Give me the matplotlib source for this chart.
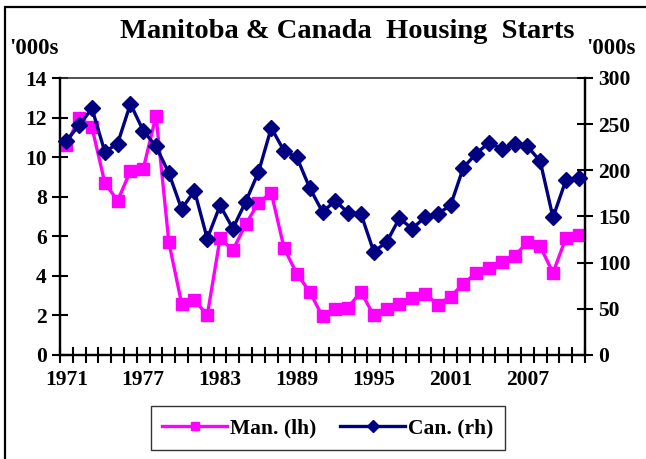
import matplotlib
matplotlib.use("Agg")
import matplotlib.pyplot as plt
import numpy as np
from matplotlib.patches import Rectangle

years = list(range(1971, 2012))
manitoba = [10.6, 12.0, 11.5, 8.7, 7.8, 9.3, 9.4, 12.1, 5.7, 2.6,
            2.8, 2.0, 5.9, 5.3, 6.6, 7.7, 8.2, 5.4, 4.1, 3.2,
            1.95, 2.3, 2.4, 3.2, 2.0, 2.3, 2.6, 2.9, 3.1, 2.55,
            2.95, 3.6, 4.15, 4.4, 4.7, 5.0, 5.7, 5.5, 4.15, 5.9, 6.05]
canada = [232, 249, 267, 220, 229, 272, 243, 226, 197, 158,
          178, 126, 162, 137, 166, 198, 246, 221, 214, 181,
          155, 167, 154, 153, 112, 122, 148, 137, 149, 153,
          162, 203, 218, 230, 223, 228, 226, 210, 149, 189, 192]
label_years = [1971, 1977, 1983, 1989, 1995, 2001, 2007]

serif = ["Liberation Serif", "DejaVu Serif"]
plt.rcParams['font.family'] = serif
plt.rcParams['font.weight'] = 'bold'

W, H = 646, 459
fig = plt.figure(figsize=(W/100, H/100), dpi=100)
ax = fig.add_axes([60/W, 1-355/H, (585-60)/W, (355-78)/H])
ax2 = ax.twinx()

x = np.arange(len(years))
pink = "#FF00FF"
navy = "#000080"
l1, = ax.plot(x, manitoba, color=pink, lw=2.4, marker='s', ms=8.5,
              mec=pink, mfc=pink, clip_on=False, zorder=3, label="Man. (lh)")
l2, = ax2.plot(x, canada, color=navy, lw=2.4, marker='D', ms=8,
               mec=navy, mfc=navy, clip_on=False, zorder=3, label="Can. (rh)")

ax.set_xlim(-0.5, len(years)-0.5)
ax.set_ylim(0, 14)
ax2.set_ylim(0, 300)
ax.set_yticks(np.arange(0, 15, 2))
ax2.set_yticks(np.arange(0, 301, 50))

fs = 15.5
ax.set_xticks([years.index(y) for y in label_years])
ax.set_xticklabels([str(y) for y in label_years])
ax.set_xticks(np.arange(-0.5, len(years), 1.0), minor=True)
ax.tick_params(axis='x', which='major', length=0, pad=11, labelsize=fs)
ax.tick_params(axis='x', which='minor', direction='inout', length=11, width=1.5)
ax.tick_params(axis='y', direction='inout', length=11, width=1.5, labelsize=fs, pad=4)
ax2.tick_params(axis='y', direction='inout', length=11, width=1.5, labelsize=fs, pad=4)

for a in (ax, ax2):
    for s in a.spines.values():
        s.set_linewidth(1.6)
        s.set_color('black')
ax.spines['top'].set_linewidth(1.2)
ax.spines['top'].set_color('#333333')
ax2.spines['top'].set_visible(False)

fig.text(347/W, 1-31/H, "Manitoba & Canada  Housing  Starts", ha='center', va='center',
         fontsize=20.5, fontweight='bold')
fig.text(9/W, 1-48/H, "'000s", ha='left', va='center', fontsize=16.5, fontweight='bold')
fig.text(586/W, 1-48/H, "'000s", ha='left', va='center', fontsize=16.5, fontweight='bold')

leg = fig.legend(handles=[l1, l2], loc='center', bbox_to_anchor=(328/W, 1-428/H),
                 ncol=2, frameon=True, fancybox=False, shadow=False,
                 prop={'size': fs, 'weight': 'bold', 'family': serif},
                 handlelength=3.0, handletextpad=0.15, columnspacing=1.1,
                 borderpad=0.55, markerscale=0.75)
leg.get_frame().set_edgecolor('black')
leg.get_frame().set_linewidth(1.0)

fig.patches.append(Rectangle((5/W, -0.05), 1.1, 0.05+1-7/H, transform=fig.transFigure,
                             fill=False, edgecolor='black', lw=1.6, zorder=0))

fig.savefig("out.png", dpi=100)
